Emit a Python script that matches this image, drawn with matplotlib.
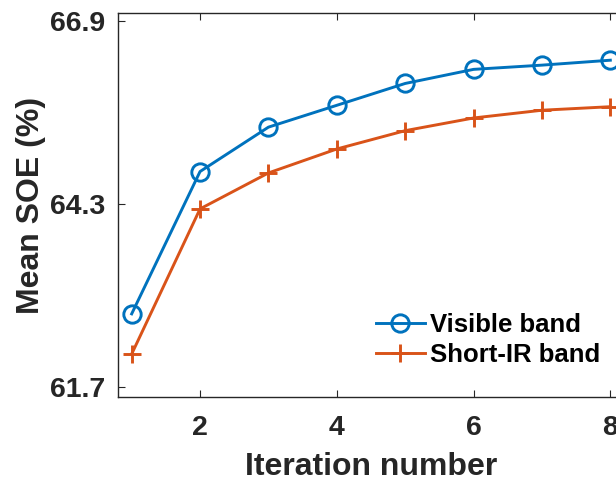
import matplotlib
matplotlib.use("Agg")
import matplotlib.pyplot as plt

iterations = [1, 2, 3, 4, 5, 6, 7, 8]
visible = [62.74, 64.76, 65.39, 65.70, 66.01, 66.21, 66.27, 66.34]
short_ir = [62.17, 64.23, 64.74, 65.08, 65.34, 65.52, 65.63, 65.68]
yticks = [61.7, 64.3, 66.9]
xticks = [2, 4, 6, 8]

plt.rcParams['font.family'] = ['Liberation Sans', 'DejaVu Sans']
plt.rcParams['font.weight'] = 'bold'

fig = plt.figure(figsize=(6.16, 4.83), dpi=100)
ax = fig.add_axes([118/616, 1-397/483, (624-118)/616, (397-13)/483])

blue = '#0072BD'
orange = '#D95319'
ax.plot(iterations, visible, '-o', color=blue, lw=2.1, ms=12.5, mfc='none', mew=2.1, label='Visible band')
ax.plot(iterations, short_ir, '-+', color=orange, lw=2.1, ms=13, mew=2.1, label='Short-IR band')

ax.set_xlim(0.8, 8.2)
ax.set_ylim(61.56, 67.01)
ax.set_xticks(xticks)
ax.set_yticks(yticks)
ax.set_yticklabels([f"{v:.1f}" for v in yticks])
for s in ax.spines.values():
    s.set_color('#262626')
    s.set_linewidth(1)
ax.tick_params(direction='in', length=5, width=0.8, colors='#262626', labelsize=20.5,
               top=True, right=True)
ax.tick_params(axis='y', pad=9)
ax.tick_params(axis='x', pad=13)
for lbl in ax.get_xticklabels() + ax.get_yticklabels():
    lbl.set_fontweight('bold')
    lbl.set_color('#262626')

ax.set_xlabel('Iteration number', fontsize=23, fontweight='bold', color='#262626', labelpad=8)
ax.set_ylabel('Mean SOE (%)', fontsize=23, fontweight='bold', color='#262626', labelpad=3)

leg = ax.legend(loc='center left', bbox_to_anchor=(376/616, 1-340/483), bbox_transform=fig.transFigure,
                frameon=False, fontsize=18.5, handlelength=1.9, handletextpad=0.2, labelspacing=0.2,
                borderaxespad=0, borderpad=0)
for t in leg.get_texts():
    t.set_fontweight('bold')
    t.set_color('black')

fig.savefig('out.png', dpi=100)
